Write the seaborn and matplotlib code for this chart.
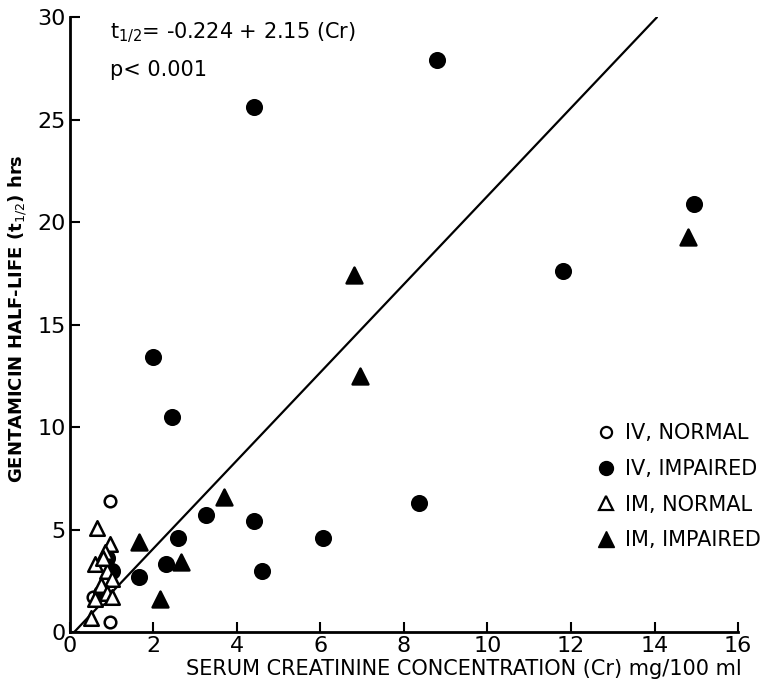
import matplotlib
matplotlib.use("Agg")
import matplotlib.pyplot as plt
import seaborn as sns
import numpy as np
import pandas as pd
from matplotlib.lines import Line2D

# IV, NORMAL (open circles)
iv_norm_x = [0.95, 0.95, 0.55, 0.75]
iv_norm_y = [6.4, 0.5, 1.7, 1.6]

# IV, IMPAIRED (filled circles)
iv_imp_x = [4.4, 8.8, 14.95, 11.8, 2.0, 2.45, 8.35, 3.25, 4.4, 2.6, 6.05, 2.3, 4.6, 1.65, 0.9, 1.0, 0.75]
iv_imp_y = [25.6, 27.9, 20.9, 17.6, 13.4, 10.5, 6.3, 5.7, 5.4, 4.6, 4.6, 3.3, 3.0, 2.7, 3.6, 3.0, 1.9]

# IM, NORMAL (open triangles)
im_norm_x = [0.5, 0.65, 0.95, 0.85, 0.6, 0.9, 1.0, 0.75, 0.9, 1.0, 0.6, 0.8]
im_norm_y = [0.7, 5.1, 4.3, 3.9, 3.3, 3.0, 2.6, 2.3, 1.9, 1.7, 1.6, 3.6]

# IM, IMPAIRED (filled triangles)
im_imp_x = [14.8, 6.8, 6.95, 3.7, 1.65, 2.65, 2.15]
im_imp_y = [19.3, 17.4, 12.5, 6.6, 4.4, 3.4, 1.6]

# regression
intercept, slope = -0.224, 2.15

x_ticks = [0, 2, 4, 6, 8, 10, 12, 14, 16]
y_ticks = [0, 5, 10, 15, 20, 25, 30]

sns.set_theme(style="ticks")
plt.rcParams['font.family'] = ['DejaVu Sans']
plt.rcParams.update({"text.color": "black", "axes.labelcolor": "black",
                     "xtick.color": "black", "ytick.color": "black"})

fig = plt.figure(figsize=(7.68, 6.9), dpi=100)
ax = fig.add_axes([0.091, 0.084, 0.87, 0.891])

groups = [
    ("IV, NORMAL", iv_norm_x, iv_norm_y, "o", "white", 70),
    ("IV, IMPAIRED", iv_imp_x, iv_imp_y, "o", "black", 110),
    ("IM, NORMAL", im_norm_x, im_norm_y, "^", "white", 110),
    ("IM, IMPAIRED", im_imp_x, im_imp_y, "^", "black", 130),
]
for name, xs, ys, mk, fc, s in groups:
    df = pd.DataFrame({"x": xs, "y": ys})
    sns.scatterplot(data=df, x="x", y="y", marker=mk, s=s, color=fc,
                    edgecolor="black", linewidth=1.8, ax=ax, zorder=3, clip_on=False)

x0 = -intercept / slope
x1 = (30 - intercept) / slope
line_df = pd.DataFrame({"x": [x0, x1], "y": [intercept + slope * x0, intercept + slope * x1]})
sns.lineplot(data=line_df, x="x", y="y", color="black", linewidth=1.6, ax=ax, zorder=2)

ax.set_xlim(0, 16)
ax.set_ylim(0, 30)
ax.set_xticks(x_ticks)
ax.set_yticks(y_ticks)
ax.set_xticklabels([str(t) for t in x_ticks], fontsize=16)
ax.set_yticklabels([str(t) for t in y_ticks], fontsize=16)
ax.tick_params(direction="in", length=7, width=1.5, pad=3, colors="black")
for sp in ["top", "right"]:
    ax.spines[sp].set_visible(False)
for sp in ["left", "bottom"]:
    ax.spines[sp].set_linewidth(2)
    ax.spines[sp].set_color("black")

ax.set_xlabel("SERUM CREATININE CONCENTRATION (Cr) mg/100 ml", fontsize=15, labelpad=2, x=0.59)
ax.set_ylabel(r"GENTAMICIN HALF-LIFE (t$_{1/2}$) hrs", fontsize=13, fontweight="bold", labelpad=6, y=0.51)

ax.text(0.06, 0.995, r"t$_{1/2}$= -0.224 + 2.15 (Cr)", transform=ax.transAxes,
        fontsize=15, va="top", ha="left")
ax.text(0.06, 0.93, "p< 0.001", transform=ax.transAxes,
        fontsize=15, va="top", ha="left")

handles = [
    Line2D([], [], marker="o", ls="none", markerfacecolor="white", markeredgecolor="black", markersize=8, markeredgewidth=1.6),
    Line2D([], [], marker="o", ls="none", markerfacecolor="black", markeredgecolor="black", markersize=10),
    Line2D([], [], marker="^", ls="none", markerfacecolor="white", markeredgecolor="black", markersize=10, markeredgewidth=1.6),
    Line2D([], [], marker="^", ls="none", markerfacecolor="black", markeredgecolor="black", markersize=11),
]
labels = ["IV, NORMAL", "IV, IMPAIRED", "IM, NORMAL", "IM, IMPAIRED"]
ax.legend(handles, labels, loc="upper left", bbox_to_anchor=(0.771, 0.353), frameon=False,
          fontsize=15, handletextpad=0.3, labelspacing=0.75, borderaxespad=0,
          handlelength=1.2)

fig.savefig("out.png", dpi=100)
